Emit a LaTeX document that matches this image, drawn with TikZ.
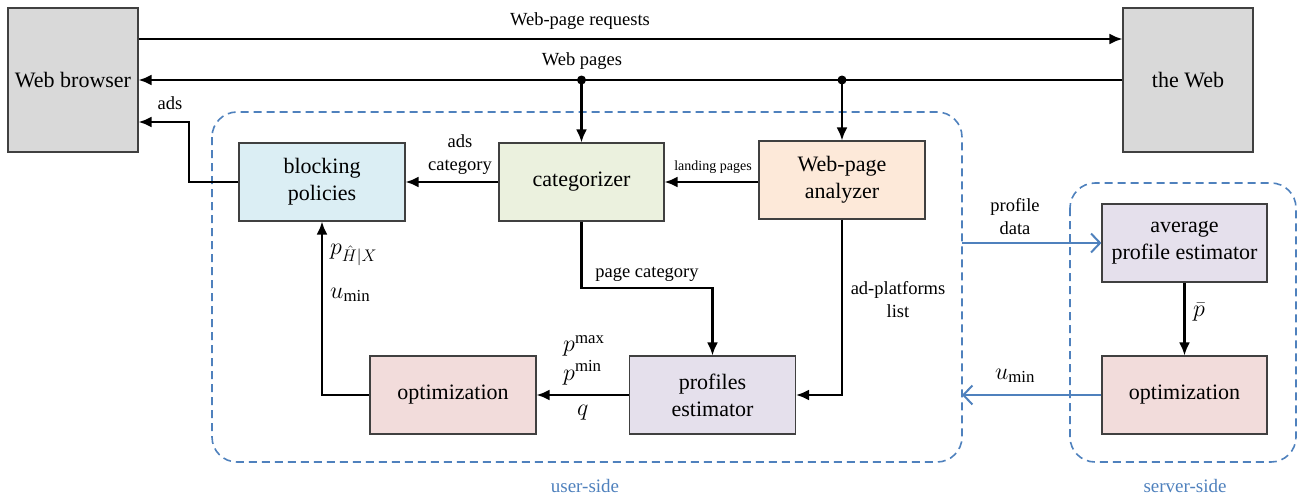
\RequirePackage{fix-cm}
\documentclass[tikz,border=0pt]{standalone}
\usepackage{fontspec}
\setmainfont{Liberation Serif}
\usetikzlibrary{arrows.meta,calc}
\definecolor{bluel}{HTML}{4F81BD}
\definecolor{grayfill}{HTML}{D9D9D9}
\definecolor{fblue}{HTML}{DBEEF4}
\definecolor{fgreen}{HTML}{EBF1DE}
\definecolor{forange}{HTML}{FDE9D9}
\definecolor{fpurple}{HTML}{E5E0EC}
\definecolor{fred}{HTML}{F2DCDB}
\definecolor{bord}{HTML}{404040}
\tikzset{
  box/.style={draw=bord, line width=1.2pt, minimum width=166pt, minimum height=78pt, align=center, inner sep=2pt,
    font=\fontsize{22}{27}\selectfont},
  arr/.style={line width=2.2pt, -{Latex[length=13pt,width=11pt]}},
  barr/.style={line width=2pt, draw=bluel, -{Straight Barb[length=9pt,width=19pt,line width=2pt]}},
  region/.style={draw=bluel, line width=1.6pt, dash pattern=on 8pt off 5pt, rounded corners=25pt},
  lab/.style={font=\fontsize{18.5}{23}\selectfont, align=center, inner sep=0pt},
  mlab/.style={font=\fontsize{24}{28}\selectfont, inner sep=0pt},
  blab/.style={font=\fontsize{19}{23}\selectfont, text=bluel, inner sep=0pt}
}
\begin{document}
\begin{tikzpicture}[x=1pt,y=-1pt]
\useasboundingbox (0,0) rectangle (1297,495);
% regions
\draw[region] (212,112) rectangle (962,462);
\draw[region] (1070,183) rectangle (1296,462);
\node[blab] (us) at (585,486) {user-side};
\node[blab] (ss) at (1185,486) {server-side};
% boxes
\node[box, fill=grayfill, minimum width=130pt, minimum height=144pt] (browser) at (73,80) {Web browser};
\node[box, fill=grayfill, minimum width=130pt, minimum height=144pt] (web) at (1188,80) {the Web};
\node[box, fill=fblue] (block) at (322,182) {blocking\\policies};
\node[box, fill=fgreen, minimum width=165pt] (cat) at (581.5,182) {categorizer};
\node[box, fill=forange] (ana) at (842,180) {Web-page\\analyzer};
\node[box, fill=fpurple] (prof) at (712.5,395) {profiles\\estimator};
\node[box, fill=fred] (opt) at (453,395) {optimization};
\node[box, fill=fpurple, minimum width=165pt] (avg) at (1184.5,243) {average\\profile estimator};
\node[box, fill=fred, minimum width=165pt] (sopt) at (1184.5,395) {optimization};
% coordinates
\coordinate (req1) at (browser.east |- 0,39);
\coordinate (req2) at (web.west |- 0,39);
\coordinate (d1) at (cat.north |- web.west);
\coordinate (d2) at (ana.north |- web.west);
\coordinate (adsin) at (browser.east |- 0,122);
\coordinate (adsbend) at (189,182);
\coordinate (pcbend) at (cat.south |- 0,288);
\coordinate (ue1) at (962,243);
\coordinate (ue2) at (962,395);
% connectors
\draw[arr] (req1) -- (req2);
\draw[arr] (web.west) -- (browser.east);
\fill (d1) circle (4.5pt);
\fill (d2) circle (4.5pt);
\draw[arr] (d1) -- (cat.north);
\draw[arr] (d2) -- (ana.north);
\draw[arr] (block.west) -- (adsbend) |- (adsin);
\draw[arr] (cat.west) -- (block.east);
\draw[arr] (ana.west |- cat.east) -- (cat.east);
\draw[arr] (cat.south) -- (pcbend) -| (prof.north);
\draw[arr] (ana.south) |- (prof.east);
\draw[arr] (prof.west) -- (opt.east);
\draw[arr] (opt.west) -| (block.south);
\draw[arr] (avg.south) -- (sopt.north);
\draw[barr] (ue1) -- (avg.west);
\draw[barr] (sopt.west) -- (ue2);
% labels
\node[lab] (l1) at (580,21) {Web-page requests};
\node[lab] (l2) at (582,61) {Web pages};
\node[lab] (l3) at (170,103) {ads};
\node[lab] (l4) at (460,155) {ads\\category};
\node[lab, font=\fontsize{14}{17}\selectfont] (l5) at (713,167) {landing pages};
\node[lab] (l6) at (647,274) {page category};
\node[lab] (l7) at (898,300) {ad-platforms\\list};
\node[lab] (l8) at (1015,217) {profile\\data};
\node[mlab, anchor=west] (m1) at (330,255) {$p_{\hat H|X}$};
\node[mlab, anchor=west] (m2) at (330,295) {$u_{\min}$};
\node[mlab, anchor=west] (m3) at (563,346) {$p^{\max}$};
\node[mlab, anchor=west] (m4) at (563,373) {$p^{\min}$};
\node[mlab, anchor=west] (m5) at (577,413) {$q$};
\node[mlab] (m6) at (1015,376) {$u_{\min}$};
\node[mlab] (m7) at (1199,312) {$\bar p$};
\end{tikzpicture}
\end{document}
